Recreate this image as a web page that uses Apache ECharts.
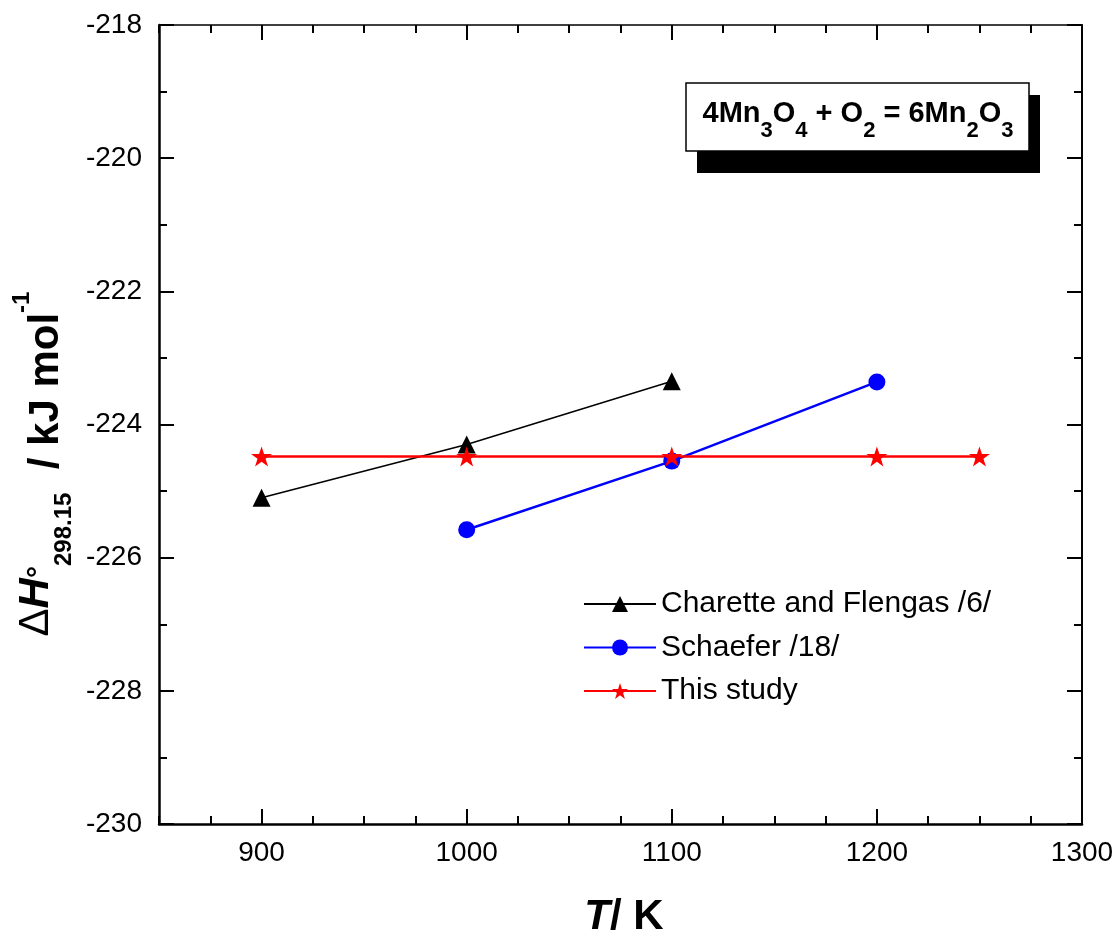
<!DOCTYPE html>
<html>
<head>
<meta charset="utf-8">
<script src="https://cdn.jsdelivr.net/npm/echarts@6/dist/echarts.min.js"></script>
<style>
  html, body { margin: 0; padding: 0; background: #ffffff; }
  #chart { width: 1120px; height: 938px; }
</style>
</head>
<body>
<div id="chart"></div>
<script>
// Standard enthalpy of 4Mn3O4 + O2 = 6Mn2O3 (kJ/mol) against temperature (K)
const seriesNames = ['Charette and Flengas /6/', 'Schaefer /18/', 'This study'];

const charetteT = [900, 1000, 1100];
const charetteH = [-225.1, -224.3, -223.35];

const schaeferT = [1000, 1100, 1200];
const schaeferH = [-225.58, -224.55, -223.36];

const studyT = [900, 1000, 1100, 1200, 1250];
const studyH = [-224.48, -224.48, -224.48, -224.48, -224.48];

const xTickValues = [900, 1000, 1100, 1200, 1300];
const xRange = [850, 1300];
const yRange = [-230, -218];

const FONT = "'Liberation Sans', Arial, Helvetica, sans-serif";
const STAR = 'path://M0,-10 L2.25,-3.1 L9.51,-3.09 L3.64,1.18 L5.88,8.09 L0,3.82 L-5.88,8.09 L-3.64,1.18 L-9.51,-3.09 L-2.25,-3.1 Z';

const pairs = (xs, ys) => xs.map((x, i) => [x, ys[i]]);
const plain = (v) => String(v);

const chart = echarts.init(document.getElementById('chart'), null, { renderer: 'canvas' });

const gridBox = { left: 159, right: 38, top: 25, bottom: 114, containLabel: false };

const tickStyle = (len, w) => ({ show: true, inside: true, length: len, lineStyle: { color: '#000', width: w } });

const option = {
  animation: false,
  backgroundColor: '#ffffff',
  grid: [Object.assign({}, gridBox), Object.assign({}, gridBox)],
  xAxis: [
    {
      type: 'value', gridIndex: 0, position: 'bottom',
      min: xRange[0], max: xRange[1], interval: 50,
      axisLine: { show: true, onZero: false, lineStyle: { color: '#000', width: 2.5 } },
      axisTick: Object.assign(tickStyle(15, 2), { customValues: xTickValues }),
      axisLabel: { customValues: xTickValues, formatter: plain, color: '#000', fontSize: 28, fontFamily: FONT, margin: 15 },
      splitLine: { show: false }
    },
    {
      type: 'value', gridIndex: 0, position: 'top',
      min: xRange[0], max: xRange[1], interval: 50,
      axisLine: { show: true, onZero: false, lineStyle: { color: '#000', width: 1.5 } },
      axisTick: Object.assign(tickStyle(15, 2), { customValues: xTickValues }),
      axisLabel: { show: false },
      splitLine: { show: false }
    },
    // minor ticks every 25 K, bottom and top
    {
      type: 'value', gridIndex: 1, position: 'bottom',
      min: xRange[0], max: xRange[1], interval: 25,
      axisLine: { show: false, onZero: false },
      axisTick: tickStyle(8, 2),
      axisLabel: { show: false },
      splitLine: { show: false }
    },
    {
      type: 'value', gridIndex: 1, position: 'top',
      min: xRange[0], max: xRange[1], interval: 25,
      axisLine: { show: false, onZero: false },
      axisTick: tickStyle(8, 2),
      axisLabel: { show: false },
      splitLine: { show: false }
    }
  ],
  yAxis: [
    {
      type: 'value', gridIndex: 0, position: 'left',
      min: yRange[0], max: yRange[1], interval: 2,
      axisLine: { show: true, onZero: false, lineStyle: { color: '#000', width: 2.5 } },
      axisTick: tickStyle(15, 2),
      minorTick: { show: true, splitNumber: 2, length: 8, lineStyle: { color: '#000', width: 2 } },
      axisLabel: { formatter: plain, color: '#000', fontSize: 28, fontFamily: FONT, margin: 17 },
      splitLine: { show: false }
    },
    {
      type: 'value', gridIndex: 0, position: 'right',
      min: yRange[0], max: yRange[1], interval: 2,
      axisLine: { show: true, onZero: false, lineStyle: { color: '#000', width: 2 } },
      axisTick: tickStyle(15, 2),
      minorTick: { show: true, splitNumber: 2, length: 8, lineStyle: { color: '#000', width: 2 } },
      axisLabel: { show: false },
      splitLine: { show: false }
    },
    {
      type: 'value', gridIndex: 1, show: false,
      min: yRange[0], max: yRange[1]
    }
  ],
  legend: {
    orient: 'vertical',
    left: 578,
    top: 584,
    itemWidth: 72,
    itemHeight: 20,
    itemGap: 13.5,
    data: seriesNames,
    textStyle: { color: '#000', fontSize: 30, fontFamily: FONT, lineHeight: 30 }
  },
  series: [
    {
      name: seriesNames[0], type: 'line', xAxisIndex: 0, yAxisIndex: 0,
      data: pairs(charetteT, charetteH),
      symbol: 'triangle', symbolSize: 18,
      lineStyle: { color: '#000000', width: 1.5 },
      itemStyle: { color: '#000000' }
    },
    {
      name: seriesNames[1], type: 'line', xAxisIndex: 0, yAxisIndex: 0,
      data: pairs(schaeferT, schaeferH),
      symbol: 'circle', symbolSize: 17,
      lineStyle: { color: '#0000ff', width: 2.5 },
      itemStyle: { color: '#0000ff' }
    },
    {
      name: seriesNames[2], type: 'line', xAxisIndex: 0, yAxisIndex: 0,
      data: pairs(studyT, studyH),
      symbol: STAR, symbolSize: 21, symbolKeepAspect: true,
      lineStyle: { color: '#ff0000', width: 2.5 },
      itemStyle: { color: '#ff0000' }
    }
  ],
  graphic: [
    // reaction label with drop shadow
    {
      type: 'rect', z: 100,
      shape: { x: 697, y: 95, width: 343, height: 78 },
      style: { fill: '#000' }
    },
    {
      type: 'rect', z: 101,
      shape: { x: 686, y: 83, width: 343, height: 68 },
      style: { fill: '#fff', stroke: '#000', lineWidth: 1.5 }
    },
    {
      type: 'text', z: 102,
      x: 858, y: 99,
      style: {
        text: '{m|4Mn}{s|3}{m|O}{s|4}{m| + O}{s|2}{m| = 6Mn}{s|2}{m|O}{s|3}',
        align: 'center', verticalAlign: 'top',
        rich: {
          m: { fontSize: 29, fontWeight: 'bold', fontFamily: FONT, fill: '#000', lineHeight: 29, verticalAlign: 'top' },
          s: { fontSize: 22, fontWeight: 'bold', fontFamily: FONT, fill: '#000', lineHeight: 22, padding: [21, 0, 0, 0], verticalAlign: 'top' }
        }
      }
    },
    // x-axis title
    {
      type: 'text', z: 102,
      x: 624, y: 917,
      style: {
        text: '{t|T}{u|/ K}',
        align: 'center', verticalAlign: 'middle',
        rich: {
          t: { fontSize: 42, fontWeight: 'bold', fontStyle: 'italic', fontFamily: FONT, fill: '#000', lineHeight: 42 },
          u: { fontSize: 42, fontWeight: 'bold', fontFamily: FONT, fill: '#000', lineHeight: 42 }
        }
      }
    },
    // y-axis title, reading bottom to top
    {
      type: 'text', z: 102,
      x: 0, y: 464,
      rotation: Math.PI / 2,
      style: {
        text: '{d|Δ}{h|H}{o|°}{s|298.15}{u|  / kJ mol}{p|-1}',
        align: 'center', verticalAlign: 'top',
        rich: {
          d: { fontSize: 42, fontFamily: FONT, fill: '#000', lineHeight: 42, padding: [15, 0, 0, 0], verticalAlign: 'top' },
          h: { fontSize: 42, fontWeight: 'bold', fontStyle: 'italic', fontFamily: FONT, fill: '#000', lineHeight: 42, padding: [15, 0, 0, 0], verticalAlign: 'top' },
          o: { fontSize: 30, fontWeight: 'bold', fontFamily: FONT, fill: '#000', lineHeight: 30, padding: [25, 0, 0, 0], verticalAlign: 'top' },
          s: { fontSize: 24, fontWeight: 'bold', fontFamily: FONT, fill: '#000', lineHeight: 24, padding: [52, 0, 0, 0], verticalAlign: 'top' },
          u: { fontSize: 42, fontWeight: 'bold', fontFamily: FONT, fill: '#000', lineHeight: 42, padding: [25, 0, 0, 0], verticalAlign: 'top' },
          p: { fontSize: 24, fontWeight: 'bold', fontFamily: FONT, fill: '#000', lineHeight: 24, padding: [10, 0, 0, 0], verticalAlign: 'top' }
        }
      }
    }
  ]
};

chart.setOption(option);
</script>
</body>
</html>
